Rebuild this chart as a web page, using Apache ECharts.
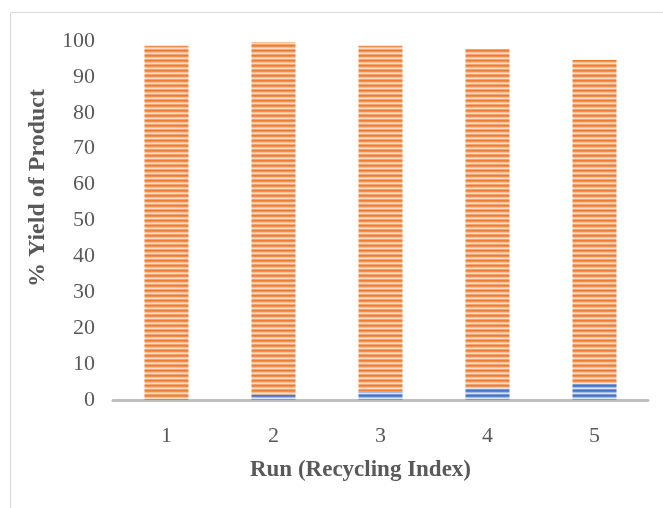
<!DOCTYPE html>
<html>
<head>
<meta charset="utf-8">
<script src="https://cdn.jsdelivr.net/npm/echarts@6/dist/echarts.min.js"></script>
<style>
html,body{margin:0;padding:0;background:#fff;}
#c{width:663px;height:508px;}
</style>
</head>
<body>
<div id="c"></div>
<script>
var categories = ['1', '2', '3', '4', '5'];
var blueValues = [0.3, 1.5, 2.4, 3.5, 4.5];
var orangeValues = [98.4, 98.2, 96.3, 94.3, 90.2];
var yTicks = [0, 10, 20, 30, 40, 50, 60, 70, 80, 90, 100];

function stripes(colors) {
  var cv = document.createElement('canvas');
  cv.width = 4; cv.height = colors.length;
  var ctx = cv.getContext('2d');
  for (var i = 0; i < colors.length; i++) {
    ctx.fillStyle = colors[i];
    ctx.fillRect(0, i, 4, 1);
  }
  return { image: cv, repeat: 'repeat' };
}
var orangePat = stripes(['#ED7D31', '#F0904F', '#F7BE9A', '#FBDCC8', '#F3A370']);
var bluePat = stripes(['#4472C4', '#5B84CC', '#A9BEE4', '#D9E3F3', '#7C9BD5']);

var font = '"Liberation Serif", "Times New Roman", serif';
var chart = echarts.init(document.getElementById('c'));
chart.setOption({
  animation: false,
  backgroundColor: '#fff',
  textStyle: { fontFamily: font },
  graphic: [
    { type: 'rect', shape: { x: 10.5, y: 12.5, width: 700, height: 600 }, style: { fill: 'none', stroke: '#D9D9D9', lineWidth: 1 }, silent: true },
    { type: 'text', x: 38, y: 188, rotation: Math.PI / 2,
      style: { text: '% Yield of Product', fontFamily: font, fontSize: 24, fontWeight: 'bold', fill: '#595959', align: 'center', verticalAlign: 'middle' } }
  ],
  grid: { left: 113, right: 15, top: 41, bottom: 108 },
  xAxis: {
    type: 'category',
    data: categories,
    axisLine: { lineStyle: { color: '#BFBFBF', width: 3 } },
    axisTick: { lineStyle: { color: '#BFBFBF', width: 2 }, length: 5 },
    axisLabel: { color: '#595959', fontSize: 22, margin: 25, fontFamily: font },
    name: 'Run (Recycling Index)',
    nameLocation: 'middle',
    nameGap: 59,
    nameTextStyle: { color: '#595959', fontSize: 23, fontWeight: 'bold', fontFamily: font, padding: [0, 40, 0, 0] }
  },
  yAxis: {
    type: 'value',
    min: yTicks[0],
    max: yTicks[yTicks.length - 1],
    interval: yTicks[1] - yTicks[0],
    axisLine: { show: false },
    axisTick: { show: false },
    splitLine: { show: false },
    axisLabel: { color: '#595959', fontSize: 22, margin: 18, fontFamily: font, padding: [8, 0, 0, 0] }
  },
  series: [
    { name: 'Blue', type: 'bar', stack: 'a', data: blueValues, barWidth: 44, itemStyle: { color: bluePat } },
    { name: 'Orange', type: 'bar', stack: 'a', data: orangeValues, barWidth: 44, itemStyle: { color: orangePat } }
  ]
});
</script>
</body>
</html>
